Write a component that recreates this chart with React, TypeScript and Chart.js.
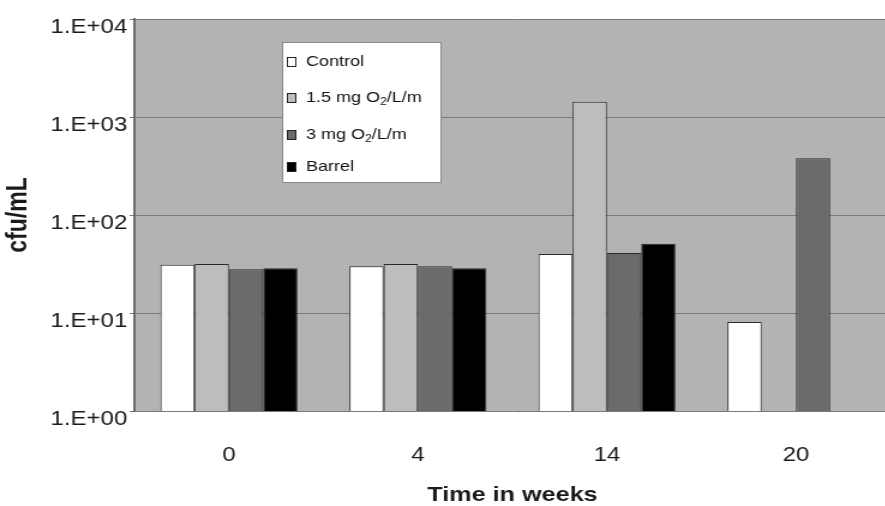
import React, { useEffect, useRef } from 'react';
import { Chart, registerables } from 'chart.js';

Chart.register(...registerables);

// ---- data ----
const categories = ['0', '4', '14', '20'];
const seriesNames = ['Control', '1.5 mg O₂/L/m', '3 mg O₂/L/m', 'Barrel'];
const controlValues = [31, 30, 40, 8.1];
const mg15Values = [31.6, 31.6, 1430, null];
const mg3Values = [28, 30, 41, 380];
const barrelValues = [28.6, 28.6, 51, null];
const yTickValues = [1, 10, 100, 1000, 10000];
const yTickLabels = ['1.E+00', '1.E+01', '1.E+02', '1.E+03', '1.E+04'];
const xTitle = 'Time in weeks';
const yTitle = 'cfu/mL';

// ---- styles ----
const seriesColors = ['#ffffff', '#bdbdbd', '#6b6b6b', '#000000'];
const FONT = '"Liberation Sans", Arial, Helvetica, sans-serif';
const STRETCH = 1.2;
const CW = 742;
const CH = 506;

const plotBg = {
  id: 'plotBg',
  beforeDraw(chart: any) {
    const { ctx, chartArea } = chart;
    ctx.save();
    ctx.fillStyle = '#b3b3b3';
    ctx.fillRect(chartArea.left, chartArea.top, chartArea.right - chartArea.left, chartArea.bottom - chartArea.top);
    ctx.restore();
  },
};

const insideLegend = {
  id: 'insideLegend',
  afterDraw(chart: any) {
    const { ctx } = chart;
    const bx = 235, by = 42, bw = 133, bh = 141;
    ctx.save();
    ctx.fillStyle = '#ffffff';
    ctx.fillRect(bx, by, bw, bh);
    ctx.strokeStyle = '#8a8a8a';
    ctx.lineWidth = 1;
    ctx.strokeRect(bx + 0.5, by + 0.5, bw - 1, bh - 1);
    const rows = [62, 98, 135, 167];
    chart.data.datasets.forEach((ds: any, i: number) => {
      const cy = rows[i];
      ctx.fillStyle = ds.backgroundColor;
      ctx.fillRect(239, cy - 5, 8, 10);
      ctx.strokeStyle = '#222';
      ctx.lineWidth = 1;
      ctx.strokeRect(239.5, cy - 4.5, 7, 9);
      ctx.fillStyle = '#111';
      ctx.textBaseline = 'middle';
      ctx.textAlign = 'left';
      const parts = String(ds.label).split('₂');
      let x = 255;
      parts.forEach((p: string, k: number) => {
        ctx.font = `15px ${FONT}`;
        ctx.fillText(p, x, cy);
        x += ctx.measureText(p).width;
        if (k < parts.length - 1) {
          ctx.font = `10px ${FONT}`;
          ctx.fillText('2', x, cy + 4);
          x += ctx.measureText('2').width;
        }
      });
    });
    ctx.restore();
  },
};

export default function App() {
  const ref = useRef<HTMLCanvasElement>(null);

  useEffect(() => {
    if (!ref.current) return;
    Chart.defaults.font.family = FONT;
    const seriesValues = [controlValues, mg15Values, mg3Values, barrelValues];
    const chart = new Chart(ref.current, {
      type: 'bar',
      data: {
        labels: categories,
        datasets: seriesNames.map((name, i) => ({
          label: name,
          data: seriesValues[i],
          backgroundColor: seriesColors[i],
          borderColor: '#2a2a2a',
          borderWidth: 1,
          categoryPercentage: 0.725,
          barPercentage: 1,
        })),
      },
      options: {
        responsive: false,
        devicePixelRatio: 1,
        animation: false,
        layout: { padding: { top: 19, right: 0, bottom: 0, left: 0 } },
        plugins: {
          legend: { display: false },
          tooltip: { enabled: false },
        },
        scales: {
          x: {
            type: 'category',
            grid: { display: false, drawTicks: false },
            border: { display: false },
            ticks: { font: { size: 20 }, color: '#1a1a1a', padding: 32 },
            title: {
              display: true,
              text: xTitle,
              color: '#1a1a1a',
              font: { size: 21, weight: 'bold', lineHeight: 1 },
              padding: 0,
            },
            afterFit: (s: any) => {
              s.height = 95;
            },
          },
          y: {
            type: 'logarithmic',
            min: 1,
            max: 10000,
            afterBuildTicks: (s: any) => {
              s.ticks = yTickValues.map((v) => ({ value: v }));
            },
            grid: { color: '#7a7a7a', lineWidth: 1, drawTicks: true, tickLength: 4 },
            border: { display: true, color: '#6a6a6a', width: 2 },
            ticks: {
              font: { size: 20 },
              color: '#1a1a1a',
              padding: 2,
              labelOffset: 8,
              autoSkip: false,
              callback: (v: any) => {
                const idx = yTickValues.indexOf(Number(v));
                return idx >= 0 ? yTickLabels[idx] : '';
              },
            },
            title: {
              display: true,
              text: yTitle,
              color: '#1a1a1a',
              font: { size: 23, weight: 'bold', lineHeight: 1.2 },
              padding: { top: 2, bottom: 0 },
            },
            afterFit: (s: any) => {
              s.width = 112;
            },
          },
        },
      },
      plugins: [plotBg, insideLegend],
    });
    return () => chart.destroy();
  }, []);

  return (
    <div
      style={{
        position: 'fixed',
        left: 0,
        top: 0,
        width: 885,
        height: 506,
        overflow: 'hidden',
        background: '#ffffff',
      }}
    >
      <div style={{ transform: `scaleX(${STRETCH})`, transformOrigin: 'left top', width: CW, height: CH }}>
        <canvas ref={ref} width={CW} height={CH} style={{ display: 'block' }} />
      </div>
    </div>
  );
}
